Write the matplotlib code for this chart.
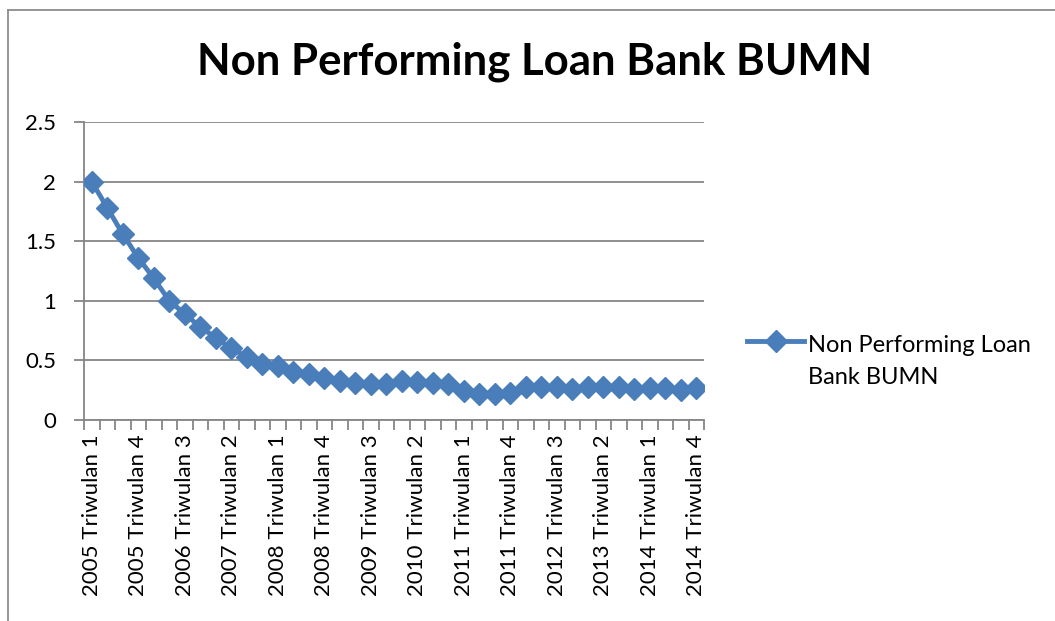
import matplotlib.pyplot as plt
from matplotlib.lines import Line2D
import numpy as np

# data (quarterly, 2005 Q1 .. 2014 Q4)
years = [y for y in range(2005, 2015) for q in range(4)]
quarters = [q for y in range(2005, 2015) for q in range(1, 5)]
categories = ['%d Triwulan %d' % (y, q) for y, q in zip(years, quarters)]
npl = [2.00, 1.78, 1.56, 1.36, 1.19, 1.00, 0.89, 0.78, 0.69, 0.60,
       0.53, 0.47, 0.45, 0.40, 0.39, 0.35, 0.33, 0.31, 0.30, 0.30,
       0.33, 0.32, 0.31, 0.30, 0.24, 0.22, 0.22, 0.23, 0.28, 0.275,
       0.275, 0.26, 0.28, 0.275, 0.275, 0.26, 0.265, 0.265, 0.25, 0.265]
yticks = [0, 0.5, 1, 1.5, 2, 2.5]
ytick_labels = ['0', '0.5', '1', '1.5', '2', '2.5']
series_name = 'Non Performing Loan\nBank BUMN'
title = 'Non Performing Loan Bank BUMN'

BLUE = '#4a7ebb'
GRID = '#868686'

plt.rcParams['font.family'] = ['Lato', 'DejaVu Sans']

fig = plt.figure(figsize=(10.55, 6.21), dpi=100)
ax = fig.add_axes([84 / 1055, 1 - 420 / 621, 620 / 1055, 298 / 621])

x = np.arange(len(npl))
line, = ax.plot(x, npl, color=BLUE, lw=3.5, marker='D', ms=11,
                markeredgecolor=BLUE, label=series_name, zorder=3)

ax.set_xlim(-0.5, len(npl) - 0.5)
ax.set_ylim(0, 2.5)

# y axis
ax.set_yticks(yticks)
ax.set_yticklabels(ytick_labels, fontsize=16)
ax.yaxis.grid(True, color=GRID, lw=1.3)
ax.tick_params(axis='y', length=7, width=1.3, color=GRID, pad=13)

# x axis: tick marks at category boundaries, labels every third category
ax.set_xticks(np.arange(-0.5, len(npl), 1.0))
ax.set_xticklabels([])
ax.tick_params(axis='x', which='major', length=7, width=1.3, color=GRID)
lab_pos = x[::3]
ax.set_xticks(lab_pos, minor=True)
ax.set_xticklabels([categories[i] for i in lab_pos], minor=True,
                   rotation=90, fontsize=16)
ax.tick_params(axis='x', which='minor', length=0, pad=10)

for s in ['top', 'right']:
    ax.spines[s].set_visible(False)
for s in ['left', 'bottom']:
    ax.spines[s].set_color(GRID)
    ax.spines[s].set_linewidth(1.3)
ax.set_axisbelow(True)

fig.text(535 / 1055, 1 - 62 / 621, title, ha='center', va='center',
         fontsize=31.5, fontweight='bold')

leg = ax.legend(loc='upper left', bbox_to_anchor=(738 / 1055, 1 - 326 / 621),
                bbox_transform=fig.transFigure, frameon=False, fontsize=17,
                handlelength=2.4, handletextpad=0.15, borderaxespad=0)
for t in leg.get_texts():
    t.set_linespacing(1.65)
# lift the legend marker up to the first text line, as in the reference
for h in leg.get_lines():
    h.set_ydata(np.asarray(h.get_ydata()) + 15)

# outer chart border (only top and left edges are visible in the reference)
fig.add_artist(Line2D([8 / 1055, 1.0], [1 - 10 / 621, 1 - 10 / 621],
                      transform=fig.transFigure, color='#8c8c8c', lw=1.3))
fig.add_artist(Line2D([8 / 1055, 8 / 1055], [0, 1 - 10 / 621],
                      transform=fig.transFigure, color='#8c8c8c', lw=1.3))

fig.savefig('out.png', dpi=100)
